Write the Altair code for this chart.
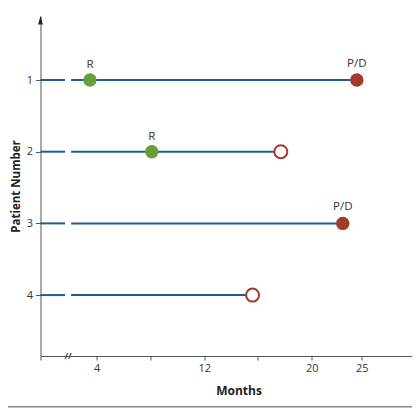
import altair as alt
import pandas as pd

# patients and their follow-up
PATIENTS = [1, 2, 3, 4]
END_MONTH = [24.5, 17.7, 23.1, 15.6]
PROGRESSED = [True, False, True, False]   # filled = P/D, open = censored

RESPONSE_PATIENTS = [1, 2]
RESPONSE_MONTH = [3.5, 8.1]

# axis break on the time line
BREAK_START = 1.65
BREAK_END = 2.1

X_TICKS = [-0.18, 4, 8, 12, 16, 20, 25, 30]
X_LABELED = [4, 12, 20, 25]

X_MIN, X_MID, X_MAX = -0.18, 20, 30
W, H = 371.5, 340

BLUE = "#1d5c96"
GREEN = "#6a9e3b"
RED = "#a33a2e"
FONT = "Open Sans"

rows = pd.DataFrame({
    "patient": PATIENTS,
    "end": END_MONTH,
    "pd": PROGRESSED,
})
rows["start"] = X_MIN
rows["b0"] = BREAK_START
rows["b1"] = BREAK_END
resp = pd.DataFrame({"patient": RESPONSE_PATIENTS, "month": RESPONSE_MONTH})

xs = alt.Scale(domain=[X_MIN, X_MID, X_MAX], range=[0, 271.2, W], nice=False, zero=False)
ys = alt.Scale(domain=[0.107, 4.85], reverse=True, nice=False, zero=False)

label_expr = "indexof(" + str(X_LABELED) + ", datum.value) >= 0 ? datum.label : ''"

x_axis = alt.Axis(
    values=X_TICKS, labelExpr=label_expr, title="Months", grid=False,
    tickSize=4, labelPadding=2, titlePadding=12, titleX=198,
    labelFontSize=11, titleFontSize=12, labelColor="#333", titleColor="#222",
    domainColor="#555", tickColor="#555", labelFont=FONT, titleFont=FONT,
    titleFontWeight="bold",
)
y_axis = alt.Axis(
    values=PATIENTS, format="d", title="Patient Number", grid=False, tickSize=5,
    labelPadding=3, titleX=-24, titleY=170, titleBaseline="middle",
    labelFontSize=11, titleFontSize=11.5,
    labelColor="#333", titleColor="#222", domainColor="#555", tickColor="#555",
    labelFont=FONT, titleFont=FONT, titleFontWeight="bold",
)

base = alt.Chart(rows)

seg1 = base.mark_rule(color=BLUE, strokeWidth=2).encode(
    x=alt.X("start:Q", scale=xs, axis=x_axis),
    x2="b0:Q",
    y=alt.Y("patient:Q", scale=ys, axis=y_axis),
)
seg2 = base.mark_rule(color=BLUE, strokeWidth=2).encode(
    x=alt.X("b1:Q", scale=xs), x2="end:Q", y=alt.Y("patient:Q", scale=ys)
)

filled = base.transform_filter("datum.pd").mark_point(
    filled=True, color=RED, size=180, opacity=1
).encode(x=alt.X("end:Q", scale=xs), y=alt.Y("patient:Q", scale=ys))

censored = base.transform_filter("!datum.pd").mark_point(
    filled=True, fill="white", stroke=RED, strokeWidth=2, size=170, opacity=1
).encode(x=alt.X("end:Q", scale=xs), y=alt.Y("patient:Q", scale=ys))

pd_text = base.transform_filter("datum.pd").mark_text(
    text="P/D", dy=-16, fontSize=11.5, font=FONT, color="#333"
).encode(x=alt.X("end:Q", scale=xs), y=alt.Y("patient:Q", scale=ys))

r_pts = alt.Chart(resp).mark_point(
    filled=True, color=GREEN, size=180, opacity=1
).encode(x=alt.X("month:Q", scale=xs), y=alt.Y("patient:Q", scale=ys))

r_text = alt.Chart(resp).mark_text(
    text="R", dy=-15, fontSize=11.5, font=FONT, color="#333"
).encode(x=alt.X("month:Q", scale=xs), y=alt.Y("patient:Q", scale=ys))

one = pd.DataFrame({"m": [(BREAK_START + BREAK_END) / 2]})

arrow = alt.Chart(one).mark_point(
    shape="M0,-1L-0.4,0.4L0.4,0.4Z", filled=True, color="#222", size=144, opacity=1
).encode(x=alt.value(0), y=alt.value(6))

slashes = alt.Chart(one).mark_text(
    text="//", fontSize=9, font=FONT, color="#444", fontWeight="bold"
).encode(x=alt.X("m:Q", scale=xs), y=alt.value(H))

bottom_line = alt.Chart(one).mark_rule(color="#8a8a8a", strokeWidth=1.5).encode(
    x=alt.value(-33), x2=alt.value(W), y=alt.value(390.7)
)

chart = (
    alt.layer(seg1, seg2, r_pts, filled, censored, pd_text, r_text, arrow, slashes, bottom_line)
    .properties(
        width=W, height=H,
        autosize=alt.AutoSizeParams(type="none"),
        padding={"left": 32.5, "top": 8, "right": 0, "bottom": 52},
        background="white",
    )
    .configure_view(strokeWidth=0)
)

chart.save("out.html", embed_options={"renderer": "svg", "actions": False})
